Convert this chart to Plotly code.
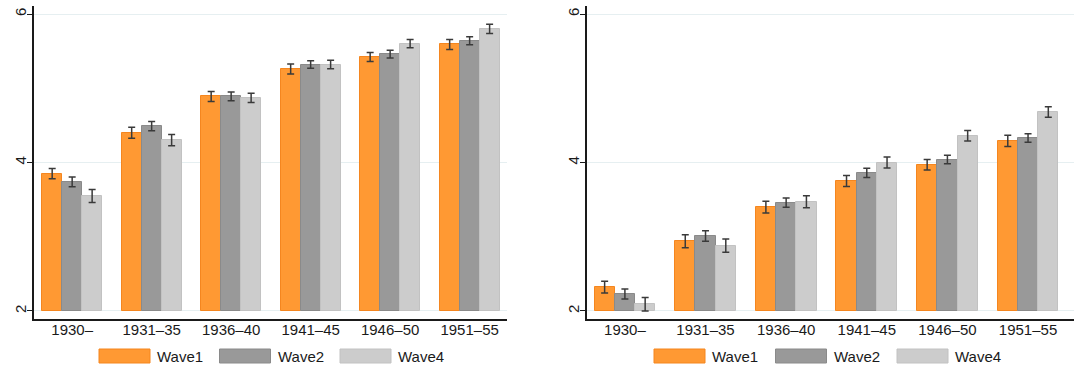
import plotly.graph_objects as go

# Birth cohorts on the category axis
cohorts = ["1930–", "1931–35", "1936–40", "1941–45", "1946–50", "1951–55"]
waves = ["Wave1", "Wave2", "Wave4"]

# Left panel: means and half-widths of confidence intervals
left_wave1 = [3.85, 4.40, 4.89, 5.26, 5.42, 5.59]
left_wave2 = [3.74, 4.49, 4.89, 5.32, 5.46, 5.64]
left_wave4 = [3.55, 4.30, 4.87, 5.32, 5.60, 5.80]
left_err1 = [0.070, 0.075, 0.067, 0.067, 0.060, 0.067]
left_err2 = [0.065, 0.063, 0.058, 0.052, 0.052, 0.054]
left_err4 = [0.088, 0.076, 0.063, 0.056, 0.056, 0.063]

# Right panel
right_wave1 = [2.32, 2.94, 3.40, 3.75, 3.97, 4.29]
right_wave2 = [2.23, 3.01, 3.46, 3.86, 4.04, 4.33]
right_wave4 = [2.09, 2.88, 3.47, 4.00, 4.36, 4.68]
right_err1 = [0.079, 0.088, 0.079, 0.074, 0.070, 0.076]
right_err2 = [0.067, 0.072, 0.063, 0.061, 0.056, 0.058]
right_err4 = [0.090, 0.090, 0.081, 0.074, 0.070, 0.072]

y_ticks = [2, 4, 6]
bar_floor = 2

W, H = 1074, 369
fills = ["#FF9933", "#999999", "#CCCCCC"]
edges = ["#F5861F", "#8A8A8A", "#C2C2C2"]
err_color = "#3A3A3A"
font_family = "Liberation Sans, Arial, Helvetica, sans-serif"
bar_w = 0.2513

fig = go.Figure()

panels = [
    ("x", "y", [left_wave1, left_wave2, left_wave4], [left_err1, left_err2, left_err4]),
    ("x2", "y2", [right_wave1, right_wave2, right_wave4], [right_err1, right_err2, right_err4]),
]

for xref, yref, series, errs in panels:
    for k, (vals, err) in enumerate(zip(series, errs)):
        xs = [i + (k - 1) * bar_w for i in range(len(cohorts))]
        fig.add_trace(go.Bar(
            x=xs, y=[v - bar_floor for v in vals], base=bar_floor,
            width=bar_w, name=waves[k], showlegend=False,
            marker=dict(color=fills[k], line=dict(color=edges[k], width=1)),
            xaxis=xref, yaxis=yref, hoverinfo="skip",
        ))
    for k, (vals, err) in enumerate(zip(series, errs)):
        xs = [i + (k - 1) * bar_w for i in range(len(cohorts))]
        fig.add_trace(go.Scatter(
            x=xs, y=vals, mode="markers", showlegend=False,
            marker=dict(size=1, color="rgba(0,0,0,0)"),
            error_y=dict(type="data", array=err, visible=True,
                         color=err_color, thickness=1.5, width=3.5),
            xaxis=xref, yaxis=yref, hoverinfo="skip",
        ))

y_dom = [(H - 319) / H, (H - 6) / H]
axis_common = dict(showline=True, linecolor="#1A1A1A", linewidth=1.5)
yaxis_common = dict(
    **axis_common, range=[1.892, 6.108], tickvals=y_ticks, ticktext=[str(t) for t in y_ticks],
    tickangle=-90, ticks="outside", ticklen=5, tickwidth=1.2, tickcolor="#1A1A1A",
    showgrid=True, gridcolor="#E6EFF1", gridwidth=1, zeroline=False,
    ticklabelstandoff=-5,
    tickfont=dict(family=font_family, size=15, color="#1A1A1A"),
)
xaxis_common = dict(
    **axis_common, tickvals=list(range(len(cohorts))), ticktext=cohorts,
    ticks="", showgrid=False, zeroline=False, ticklabelstandoff=-4,
    tickfont=dict(family=font_family, size=15, color="#1A1A1A"),
)

fig.update_layout(
    width=W, height=H, margin=dict(l=0, r=0, t=0, b=0),
    paper_bgcolor="white", plot_bgcolor="white",
    barmode="overlay", bargap=0,
    xaxis=dict(**xaxis_common, domain=[34 / W, 507 / W], range=[-0.48, 5.47], anchor="y"),
    yaxis=dict(**yaxis_common, domain=y_dom, anchor="x"),
    xaxis2=dict(**xaxis_common, domain=[587 / W, 1.0], range=[-0.47, 5.57], anchor="y2"),
    yaxis2=dict(**yaxis_common, domain=y_dom, anchor="x2"),
)

# Legend rows under each panel: wide swatches with labels
shapes, annots = [], []
legend_starts = [99, 654]
legend_pitch = [120.5, 121.5]
sw_w, sw_top, sw_bot = 51, 349, 363
for start, pitch in zip(legend_starts, legend_pitch):
    for k, name in enumerate(waves):
        x0 = start + k * pitch
        shapes.append(dict(
            type="rect", xref="paper", yref="paper",
            x0=x0 / W, x1=(x0 + sw_w) / W, y0=1 - sw_bot / H, y1=1 - sw_top / H,
            fillcolor=fills[k], line=dict(color=edges[k], width=1),
        ))
        annots.append(dict(
            xref="paper", yref="paper", x=(x0 + sw_w + 5) / W, y=1 - (sw_top + sw_bot) / 2 / H,
            text=name, showarrow=False, xanchor="left", yanchor="middle",
            font=dict(family=font_family, size=15, color="#1A1A1A"),
        ))
fig.update_layout(shapes=shapes, annotations=annots)

fig.write_html("out.html")
